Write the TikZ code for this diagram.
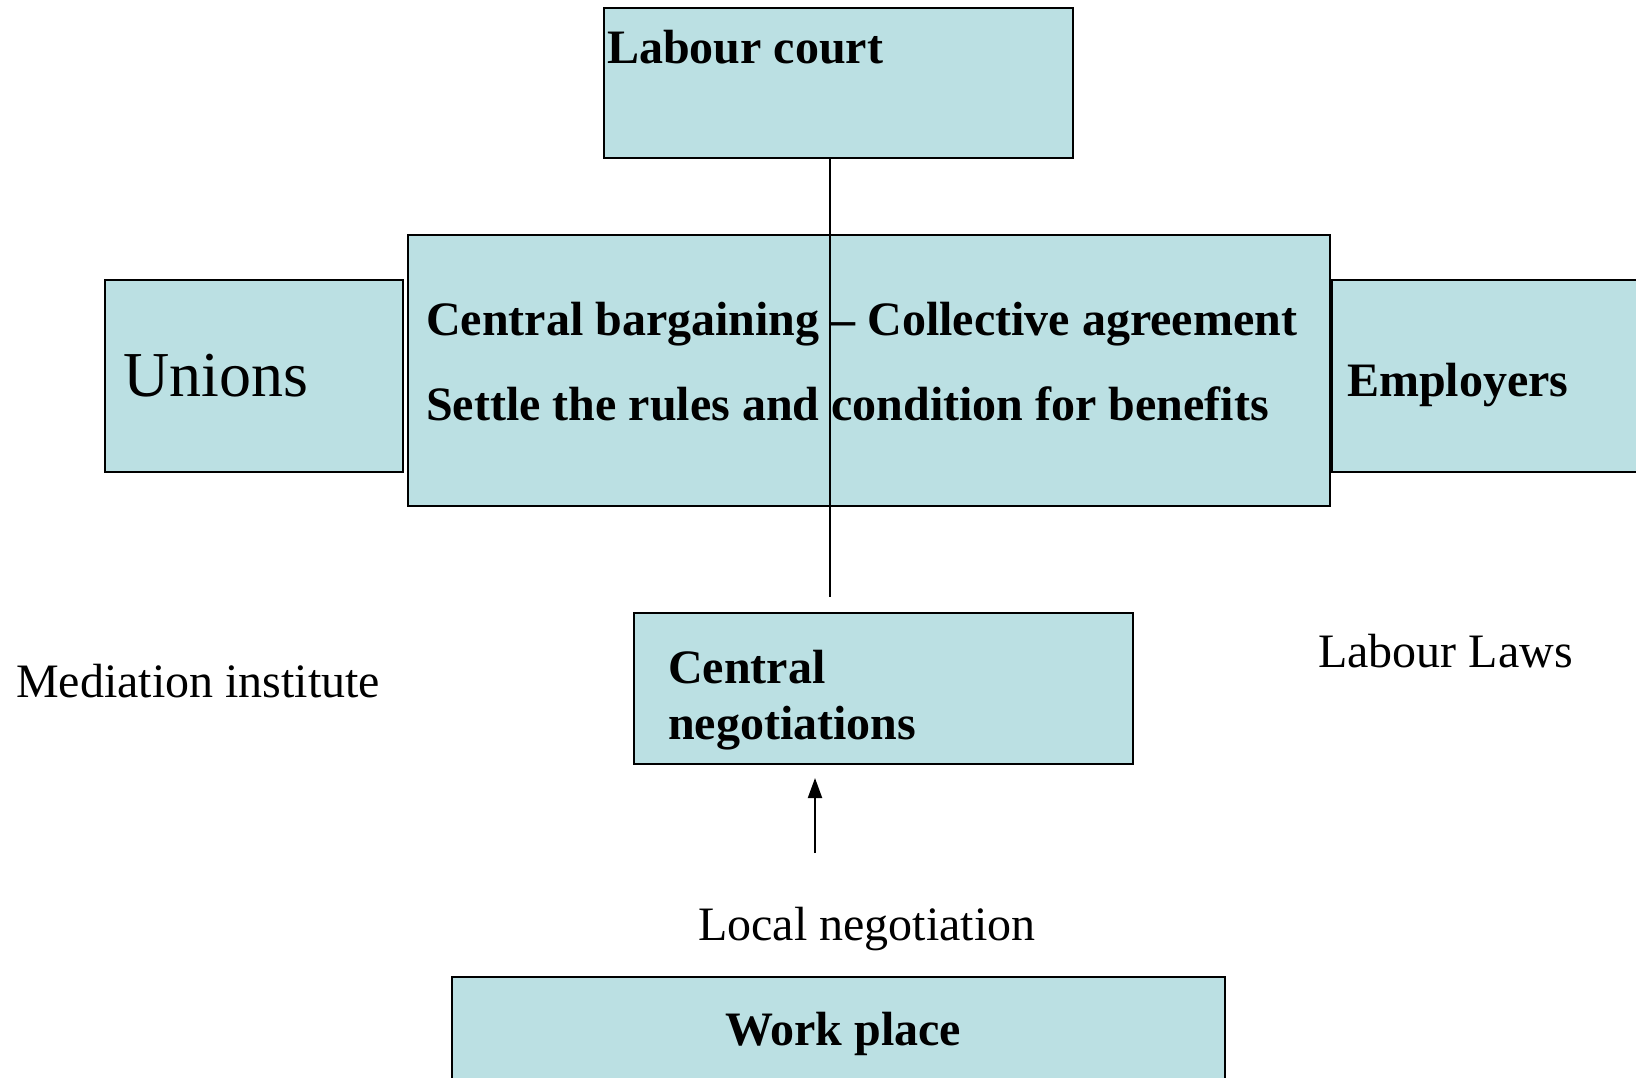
\documentclass[tikz,border=0pt]{standalone}
\usepackage{fontspec}
\setmainfont{Liberation Serif}
\usepackage{xcolor}
\usetikzlibrary{arrows.meta,positioning}
\definecolor{boxfill}{HTML}{BBE0E3}
\tikzset{
    pane/.style={draw,line width=2pt,fill=boxfill,inner sep=0pt,anchor=north west},
    txt/.style={inner sep=0pt,anchor=base west,font=\fontsize{48}{56}\selectfont},
    btxt/.style={txt,font=\fontsize{48}{56}\selectfont\bfseries}
}

\begin{document}
\begin{tikzpicture}[x=1pt,y=-1pt]
            \useasboundingbox (0,0) rectangle (1636,1077);
            \clip (0,0) rectangle (1636,1077);
            \node[pane,minimum width=469pt,minimum height=150pt] (court) at (603,7) {};
            \node[pane,minimum width=922pt,minimum height=271pt] (central) at (407,234) {};
            \node[pane,minimum width=298pt,minimum height=192pt] (unions) at (104,279) {};
            \node[pane,minimum width=400pt,minimum height=192pt] (employers) at (central.north east |- unions.north) {};
            \node[pane,minimum width=499pt,minimum height=151pt] (centneg) at (633,612) {};
            \node[pane,minimum width=773pt,minimum height=150pt] (work) at (451,976) {};
            \coordinate (lineend) at (830,597);
            \coordinate (arrowtail) at (815,853);
            \coordinate (arrowhead) at (815,778);
            \draw[line width=2pt] (court.south -| lineend) -- (lineend);
            \begin{scope}[-{Triangle[length=20pt,width=14pt]}]
                \draw[line width=2pt] (arrowtail) -- (arrowhead);
            \end{scope}
            \node[btxt] (courttext) at (607,63) {Labour court};
            \node[btxt] (bargain) at (426,335) {Central bargaining -- Collective agreement};
            \node[btxt] (settle) at (426,420) {Settle the rules and condition for benefits};
            \node[txt,font=\fontsize{64}{72}\selectfont] (unionstext) at (123,396) {Unions};
            \node[btxt] (employerstext) at (1347,396) {Employers};
            \node[txt] (mediation) at (16,697) {Mediation institute};
            \node[txt] (laws) at (1318,667) {Labour Laws};
            \node[btxt,align=left] (centnegtext) at (668,739) {Central\\negotiations};
            \node[txt] (local) at (698,940) {Local negotiation};
            \node[btxt,anchor=base] (worktext) at (843,1045) {Work place};
        \end{tikzpicture}
\end{document}
